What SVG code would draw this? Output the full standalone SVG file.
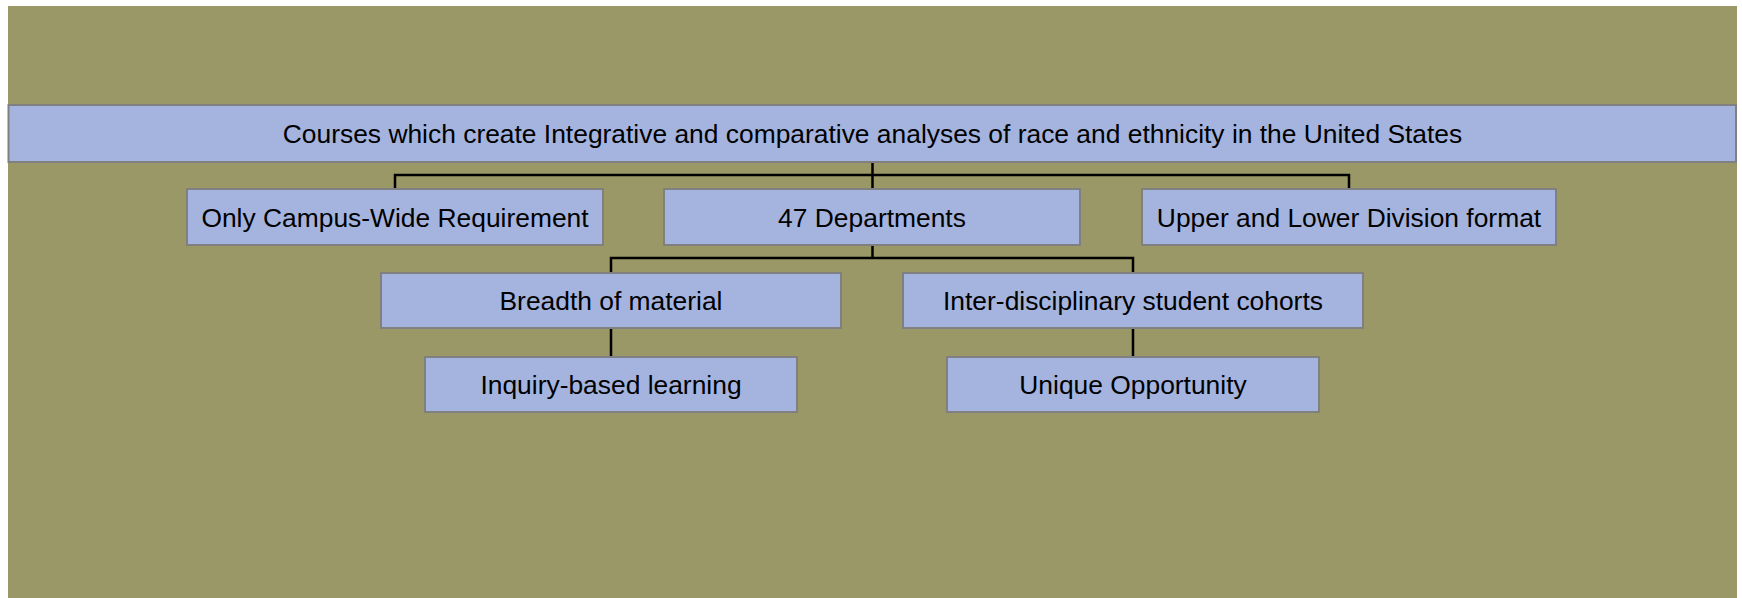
<svg xmlns="http://www.w3.org/2000/svg" width="1742" height="598" viewBox="0 0 1742 598">
<style>
.box{fill:#A4B4DF;stroke:#808080;stroke-width:2}
.lbl{font-family:"Liberation Sans",Arial,sans-serif;font-size:26.4px;fill:#000;text-anchor:middle}
.conn{fill:none;stroke:#000;stroke-width:2.5}
</style>
<rect x="0" y="0" width="1742" height="598" fill="#ffffff"/>
<rect x="8" y="6" width="1729" height="592" fill="#9A9866"/>
<g id="connectors">
<path class="conn" d="M872.5 162V189M395 189V175H1349V189"/>
<path class="conn" d="M872.5 245V258M611 273V258H1133V273"/>
<path class="conn" d="M611 328V357"/>
<path class="conn" d="M1133 328V357"/>
</g>
<g id="root"><rect class="box" x="8.5" y="105" width="1727.5" height="57"/><text class="lbl" x="872.5" y="143">Courses which create Integrative and comparative analyses of race and ethnicity in the United States</text></g>
<g id="only"><rect class="box" x="187" y="189" width="416" height="56"/><text class="lbl" x="395" y="226.5">Only Campus-Wide Requirement</text></g>
<g id="dept"><rect class="box" x="664" y="189" width="416" height="56"/><text class="lbl" x="872" y="226.5">47 Departments</text></g>
<g id="upper"><rect class="box" x="1142" y="189" width="414" height="56"/><text class="lbl" x="1349" y="226.5">Upper and Lower Division format</text></g>
<g id="breadth"><rect class="box" x="381" y="273" width="460" height="55"/><text class="lbl" x="611" y="310">Breadth of material</text></g>
<g id="inter"><rect class="box" x="903" y="273" width="460" height="55"/><text class="lbl" x="1133" y="310">Inter-disciplinary student cohorts</text></g>
<g id="inquiry"><rect class="box" x="425" y="357" width="372" height="55"/><text class="lbl" x="611" y="394">Inquiry-based learning</text></g>
<g id="unique"><rect class="box" x="947" y="357" width="372" height="55"/><text class="lbl" x="1133" y="394">Unique Opportunity</text></g>
</svg>
